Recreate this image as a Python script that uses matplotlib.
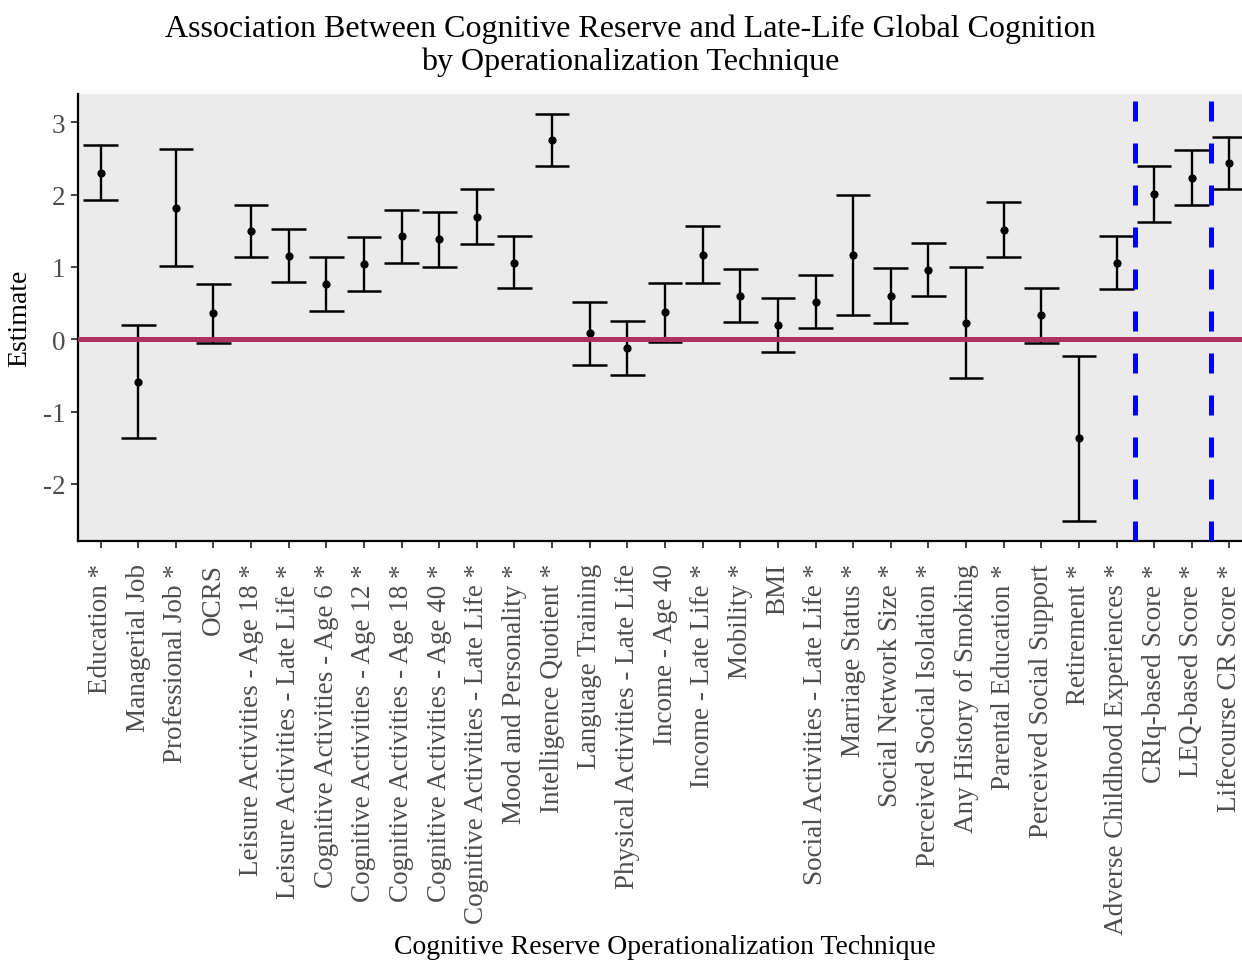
import numpy as np
import matplotlib
matplotlib.use("Agg")
import matplotlib.pyplot as plt

plt.rcParams['font.family'] = ['Liberation Serif', 'DejaVu Serif']

techniques = [
    "Education *", "Managerial Job", "Professional Job *", "OCRS",
    "Leisure Activities - Age 18 *", "Leisure Activities - Late Life *",
    "Cognitive Activities - Age 6 *", "Cognitive Activities - Age 12 *",
    "Cognitive Activities - Age 18 *", "Cognitive Activities - Age 40 *",
    "Cognitive Activities - Late Life *", "Mood and Personality *",
    "Intelligence Quotient *", "Language Training",
    "Physical Activities - Late Life", "Income - Age 40",
    "Income - Late Life *", "Mobility *", "BMI",
    "Social Activities - Late Life *", "Marriage Status *",
    "Social Network Size *", "Perceived Social Isolation *",
    "Any History of Smoking", "Parental Education *",
    "Perceived Social Support", "Retirement *",
    "Adverse Childhood Experiences *", "CRIq-based Score *",
    "LEQ-based Score *", "Lifecourse CR Score *",
]
estimate = [2.30, -0.59, 1.82, 0.36, 1.49, 1.15, 0.76, 1.04, 1.42, 1.38,
            1.69, 1.06, 2.76, 0.08, -0.12, 0.37, 1.17, 0.60, 0.20, 0.52,
            1.16, 0.60, 0.96, 0.23, 1.51, 0.33, -1.37, 1.06, 2.01, 2.23, 2.43]
lower = [1.92, -1.37, 1.01, -0.05, 1.13, 0.79, 0.39, 0.67, 1.06, 1.00,
         1.31, 0.71, 2.40, -0.36, -0.49, -0.04, 0.78, 0.24, -0.18, 0.15,
         0.33, 0.22, 0.60, -0.54, 1.14, -0.05, -2.52, 0.70, 1.62, 1.85, 2.07]
upper = [2.68, 0.19, 2.63, 0.77, 1.86, 1.52, 1.14, 1.41, 1.79, 1.76,
         2.07, 1.42, 3.12, 0.51, 0.25, 0.78, 1.56, 0.97, 0.57, 0.89,
         1.99, 0.98, 1.33, 1.00, 1.89, 0.71, -0.23, 1.42, 2.40, 2.61, 2.79]
# group boundaries (between positions)
dividers = [27.5, 29.5]

x = np.arange(len(techniques))
est = np.array(estimate)
lo = np.array(lower)
hi = np.array(upper)

fig = plt.figure(figsize=(12.42, 9.62), dpi=100)
ax = fig.add_axes([78/1242, 1-542/962, (1252-78)/1242, (542-95)/962])
ax.set_facecolor('#EBEBEB')

# error bars with wide caps
cap = 0.46
ax.vlines(x, lo, hi, color='black', lw=1.7, zorder=3)
ax.hlines(lo, x-cap, x+cap, color='black', lw=1.8, zorder=3)
ax.hlines(hi, x-cap, x+cap, color='black', lw=1.8, zorder=3)
ax.scatter(x, est, s=24, color='black', zorder=4)

ax.axhline(0, color='#B03060', lw=3.6, zorder=5)
for d in dividers:
    ln = ax.axvline(d, color='#0000FF', lw=3.6, zorder=6)
    ln.set_dashes((4, 4.4))

ax.set_xlim(-0.6, len(techniques) - 0.4)
ax.set_ylim(-2.79, 3.39)
ax.set_yticks([3, 2, 1, 0, -1, -2])
ax.set_yticklabels(['3', '2', '1', '0', '-1', '-2'])
ax.set_xticks(x)
ax.set_xticklabels(techniques, rotation=90, ha='center', va='top')

ax.tick_params(axis='both', colors='#333333', labelcolor='#4D4D4D',
               labelsize=19.5, width=1.3, length=5)
ax.tick_params(axis='x', pad=11)
ax.tick_params(axis='y', pad=4)

for s in ['top', 'right']:
    ax.spines[s].set_visible(False)
for s in ['left', 'bottom']:
    ax.spines[s].set_color('black')
    ax.spines[s].set_linewidth(1.6)

ax.set_ylabel('Estimate', fontsize=20, color='black', labelpad=8)
fig.text(665/1242, 1-948/962, 'Cognitive Reserve Operationalization Technique',
         ha='center', va='center', fontsize=20)
fig.text(630/1242, 1-46/962,
         'Association Between Cognitive Reserve and Late-Life Global Cognition\n'
         'by Operationalization Technique',
         ha='center', va='center', fontsize=23, linespacing=1.15)

fig.savefig('out.png', dpi=100, facecolor='white')
